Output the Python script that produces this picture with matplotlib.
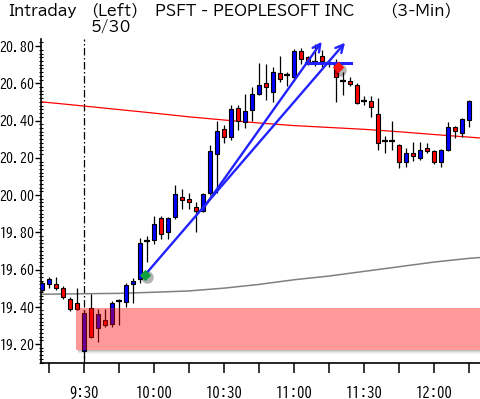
import matplotlib
matplotlib.use("Agg")
import matplotlib.pyplot as plt
from matplotlib.patches import Rectangle
import numpy as np

# ---------------- data ----------------
bar_index = list(range(-6, 56))  # 3-min bars relative to 9:30
opens = [19.49, 19.52, 19.52, 19.50, 19.44, 19.42,
         19.16, 19.395, 19.285, 19.33, 19.31, 19.43, 19.425, 19.52, 19.55, 19.755,
         19.76, 19.875, 19.80, 19.88, 19.99, 19.98, 19.935, 19.915, 20.01, 20.22,
         20.355, 20.31, 20.47, 20.39, 20.455, 20.545, 20.60, 20.555, 20.655, 20.645,
         20.635, 20.775, 20.74, 20.715, 20.745, 20.71, 20.705, 20.61, 20.61, 20.59,
         20.505, 20.505, 20.435, 20.29, 20.29, 20.27, 20.175, 20.225, 20.20, 20.25,
         20.235, 20.175, 20.24, 20.365, 20.335, 20.405]
highs = [19.54, 19.56, 19.56, 19.51, 19.45, 19.50,
         19.385, 19.47, 19.39, 19.39, 19.43, 19.44, 19.53, 19.555, 19.77, 19.78,
         19.885, 19.89, 19.88, 20.055, 20.035, 20.01, 19.96, 20.01, 20.27, 20.395,
         20.375, 20.485, 20.485, 20.545, 20.58, 20.71, 20.705, 20.69, 20.745, 20.66,
         20.785, 20.79, 20.745, 20.81, 20.78, 20.73, 20.73, 20.66, 20.635, 20.60,
         20.53, 20.53, 20.52, 20.315, 20.40, 20.275, 20.25, 20.285, 20.285, 20.28,
         20.24, 20.245, 20.39, 20.37, 20.415, 20.51]
lows = [19.48, 19.50, 19.49, 19.44, 19.375, 19.38,
        19.12, 19.23, 19.21, 19.29, 19.29, 19.30, 19.40, 19.42, 19.53, 19.64,
        19.735, 19.765, 19.765, 19.87, 19.925, 19.925, 19.80, 19.91, 20.00, 20.01,
        20.28, 20.295, 20.35, 20.36, 20.40, 20.535, 20.51, 20.50, 20.605, 20.585,
        20.615, 20.705, 20.70, 20.695, 20.69, 20.69, 20.50, 20.535, 20.585, 20.49,
        20.485, 20.42, 20.24, 20.225, 20.24, 20.145, 20.15, 20.185, 20.19, 20.225,
        20.165, 20.15, 20.235, 20.305, 20.31, 20.365]
closes = [19.53, 19.55, 19.50, 19.45, 19.39, 19.39,
          19.365, 19.24, 19.36, 19.30, 19.42, 19.43, 19.515, 19.54, 19.745, 19.755,
          19.845, 19.79, 19.875, 20.005, 19.975, 19.96, 19.915, 20.005, 20.235, 20.345,
          20.31, 20.46, 20.40, 20.45, 20.54, 20.59, 20.58, 20.66, 20.625, 20.645,
          20.775, 20.73, 20.715, 20.715, 20.72, 20.71, 20.635, 20.61, 20.595, 20.495,
          20.505, 20.475, 20.28, 20.29, 20.29, 20.175, 20.225, 20.21, 20.24, 20.235,
          20.175, 20.24, 20.365, 20.345, 20.41, 20.505]

# moving averages (sampled along the chart)
ma_red_bars = [-6.2, 0, 5, 10, 15, 20, 25, 30, 35, 40, 45, 50, 55, 56.8]
ma_red_vals = [20.501, 20.478, 20.459, 20.440, 20.420, 20.403, 20.387, 20.373,
               20.363, 20.353, 20.340, 20.325, 20.311, 20.306]
ma_gray_bars = [-6.2, 0, 5, 10, 15, 20, 25, 30, 35, 40, 45, 50, 55, 56.8]
ma_gray_vals = [19.467, 19.470, 19.472, 19.478, 19.485, 19.500, 19.520, 19.545,
                19.565, 19.590, 19.615, 19.640, 19.660, 19.665]

# drawn annotations (bar index, price)
trend_a = [(16.86, 19.919), (33.96, 20.823)]
trend_b = [(8.71, 19.571), (37.29, 20.818)]
hline_seg = [(31.7, 20.71), (38.1, 20.71)]
green_pt = (8.71, 19.571)
red_pt = (36.33, 20.686)
zone_left_bar = -1.14
zone_low, zone_high = 19.168, 19.392

tick_labels = ["9:30", "10:00", "10:30", "11:00", "11:30", "12:00"]
ytick_vals = [19.20, 19.40, 19.60, 19.80, 20.00, 20.20, 20.40, 20.60, 20.80]

# ---------------- figure ----------------
plt.rcParams['font.family'] = ['BIZ UDGothic', 'DejaVu Sans']

W, H = 481, 399
fig = plt.figure(figsize=(W / 100, H / 100), dpi=100)
L, R, T, B = 41, 481, 39, 363
ax = fig.add_axes([L / W, 1 - B / H, (R - L) / W, (B - T) / H])

def xm(k):
    return 570 + 3 * k

xs = np.array([xm(k) for k in bar_index])
o = np.array(opens); h = np.array(highs); l = np.array(lows); c = np.array(closes)

# moving averages
ax.plot([xm(k) for k in ma_gray_bars], ma_gray_vals, color='#808080', lw=1.1, zorder=2)
ax.plot([xm(k) for k in ma_red_bars], ma_red_vals, color='#ff0000', lw=0.9, zorder=2)

# day separator
ax.axvline(570, color='black', lw=0.9, ls=(0, (6, 2, 1.2, 2)), zorder=1)

# candles
ax.vlines(xs, l, h, color='black', lw=0.9, zorder=3)
for x, oo, cc in zip(xs, o, c):
    if abs(cc - oo) < 1e-9:
        ax.hlines(oo, x - 1.1, x + 1.1, color='black', lw=1.6, zorder=4)
    else:
        col = '#0000ff' if cc > oo else '#ff0000'
        ax.bar(x, abs(cc - oo), bottom=min(oo, cc), width=1.8, color=col,
               edgecolor='black', linewidth=0.8, zorder=4)

# highlighted zone with soft shadow below it
x0 = xm(zone_left_bar)
x1 = xm(57)
for i, a in enumerate([0.26, 0.16, 0.09, 0.04]):
    ax.add_patch(Rectangle((x0 + 1.0, zone_low - (i + 1) * 0.006), x1 - x0, 0.006,
                           facecolor='black', edgecolor='none', alpha=a, zorder=4.5))
ax.add_patch(Rectangle((x0, zone_low), x1 - x0, zone_high - zone_low,
                       facecolor='#ff0000', edgecolor='none', alpha=0.4, zorder=5))

# trend lines
for seg in (trend_a, trend_b):
    (ka, pa), (kb, pb) = seg
    ax.annotate('', xy=(xm(kb), pb), xytext=(xm(ka), pa),
                arrowprops=dict(arrowstyle='->,head_length=0.55,head_width=0.28',
                                color='#2222ff', lw=1.7, shrinkA=0, shrinkB=0),
                zorder=6)
ax.plot([xm(hline_seg[0][0]), xm(hline_seg[1][0])], [hline_seg[0][1], hline_seg[1][1]],
        color='#2222ff', lw=2.2, zorder=6)

# markers with shadows
for (k, p), col in ((green_pt, '#10a040'), (red_pt, '#ff1010')):
    ax.scatter([xm(k) + 0.8], [p - 0.012], s=80, color='black', alpha=0.3, zorder=6, linewidths=0)
    ax.scatter([xm(k)], [p], s=34, color=col, zorder=7, linewidths=0, marker='D')

# axes formatting
ax.set_xlim(xm(-6.14), xm(56.71))
ax.set_ylim(19.098, 20.838)
for s in ('top', 'right'):
    ax.spines[s].set_visible(False)
ax.spines['left'].set_linewidth(1.2)
ax.spines['bottom'].set_linewidth(1.2)

ax.set_xticks([570, 600, 630, 660, 690, 720])
ax.set_xticklabels(tick_labels)
ax.set_xticks([555, 585, 615, 645, 675, 705, 735], minor=True)
ax.tick_params(axis='x', which='both', direction='out', length=7.5, width=1.1, pad=8.0,
               labelsize=10.5)
ax.set_yticks(ytick_vals)
ax.set_yticklabels([f"{v:.2f}" for v in ytick_vals])
ax.set_yticks(np.arange(19.10, 20.84, 0.02), minor=True)
ax.tick_params(axis='y', which='major', direction='out', length=4.3, width=1.0, pad=0.2,
               labelsize=10)
ax.tick_params(axis='y', which='minor', direction='inout', length=2.5, width=0.8)

# header texts
def ftext(x, y, s):
    fig.text(x / W, 1 - y / H, s, ha='left', va='center', fontsize=10.5,
             family=['BIZ UDPGothic', 'BIZ UDGothic', 'DejaVu Sans'])

ftext(8, 11, "Intraday")
ftext(91, 11, "(Left)")
ftext(155, 11, "PSFT - PEOPLESOFT INC")
ftext(390, 11, "(3-Min)")
ftext(91, 26, "5/30")

fig.savefig("out.png", dpi=100)
